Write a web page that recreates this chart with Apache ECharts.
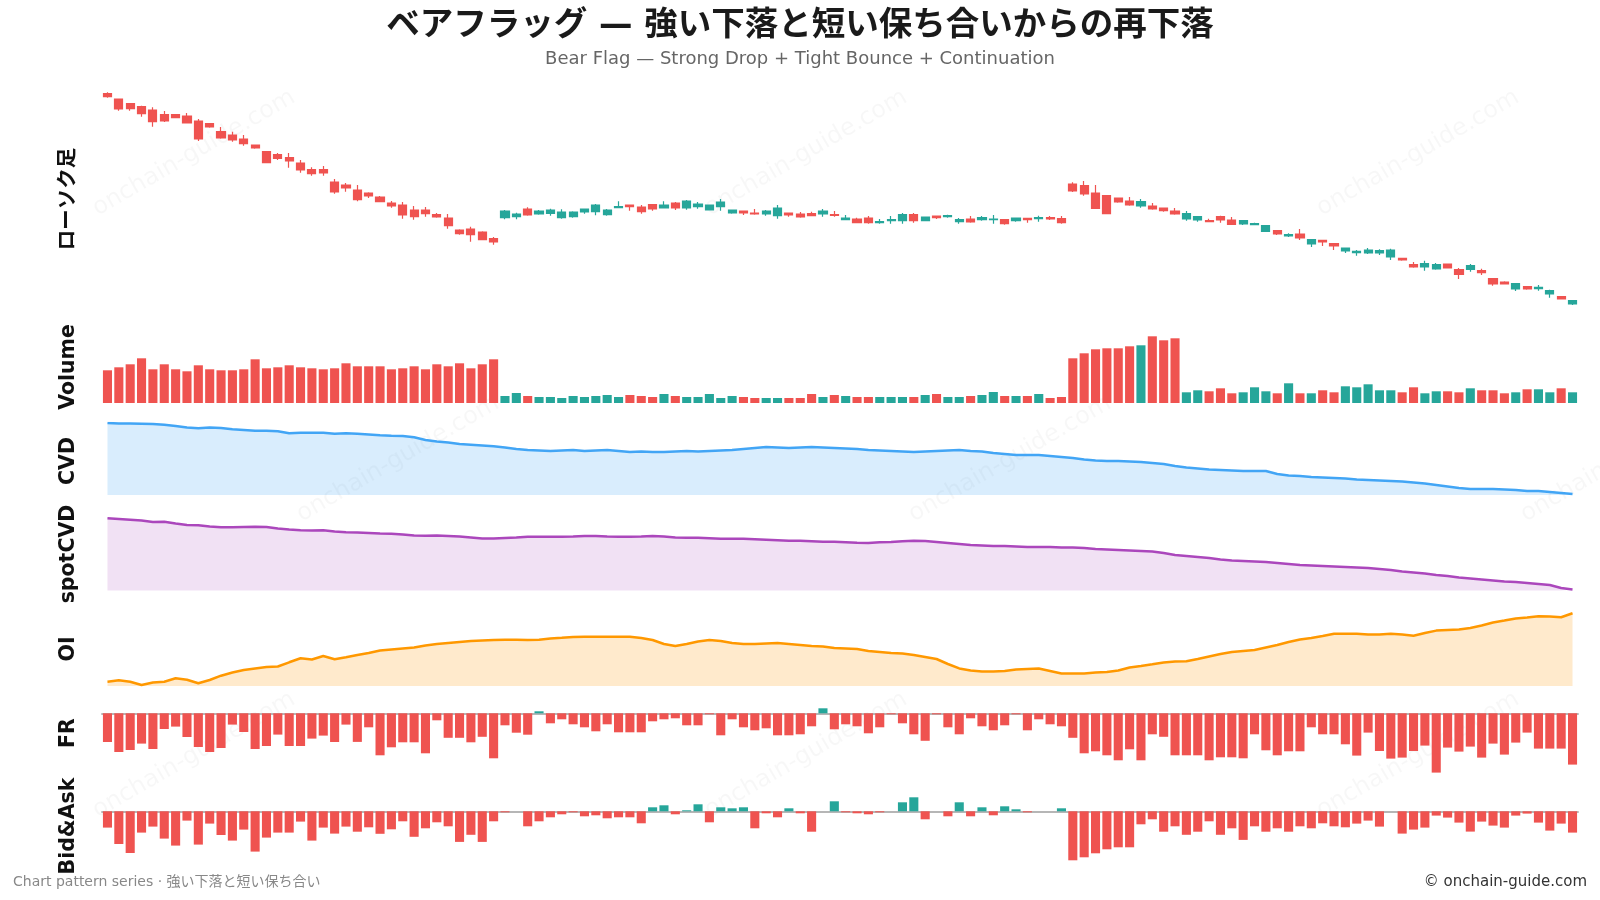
<!DOCTYPE html>
<html>
<head>
<meta charset="utf-8">
<title>Bear Flag</title>
<script src="https://cdn.jsdelivr.net/npm/echarts@6/dist/echarts.min.js"></script>
<style>
  html, body { margin: 0; padding: 0; background: #fff; }
  #chart { width: 1600px; height: 900px; }
</style>
</head>
<body>
<div id="chart"></div>
<script>
// ベアフラッグ: 35本の急落 → 50本の保ち合い → 45本の再下落
var categories = [];
for (var n = 1; n <= 130; n++) categories.push('D' + n);

// ローソク足 [open, close, low, high]
var candles = [
  [306.3,303.3,302.3,307.7],[301,291,289.3,301],[296.3,291.3,289.3,297],[293.3,286.3,283.3,294.3],[290,278.3,273.3,292.7],
  [285.3,279,278,289],[285.3,282.3,282.3,285.3],[284,277,277,287],[279,261,259,281],[276.3,273,272.3,277],
  [268.3,262,261.3,273],[265,260,258.3,268.3],[261,256.3,254.3,265],[255,252,251.3,255],[248.3,237.3,237,249],
  [245.3,241.7,240,247],[242.3,239,232.3,247],[237,230,227.3,240],[230.3,226.3,224.3,232.7],[230.3,227,224.3,234],
  [218,208,206.3,221],[215,212,208.3,217],[210,200.3,198.7,215],[207,204,202,207.7],[203,198.3,198.3,204],
  [197,194,192.3,199],[195,185,181.3,198],[190,183.3,180.3,194],[190,186.3,183.3,193],[185.3,183,182.3,187],
  [182,174.3,171.3,186],[170,166.3,165.3,170.7],[171,165.3,158.3,173.3],[168,160.3,160.3,168.7],[161.3,158,155.3,163],
  // 保ち合い
  [182.3,189,180.7,190],[183.3,186,180.7,187.3],[191,185,184.3,192.7],[186,189,185.3,190],[186.7,190,184.3,191.3],
  [182.3,188,181.3,190.7],[183.3,188,182.3,188.7],[188,191,186.3,191],[188.3,195,184.7,196],[185.3,190,184.3,191],
  [192.3,193.3,192.3,198.7],[195,193.3,189.3,195],[193,188.3,186.3,195],[195.3,191,189.3,196],[192,195,192,198.7],
  [197,192,190,198],[192,199,190.3,200],[193.3,196,191.3,198],[190,195,190,195],[193.3,198,189.3,201],
  [187,190,186.3,190],[189,187,185,189],[187,186,185.3,191],[186,189,184.3,190],[184.3,192,181.3,195],
  [187,185,183.3,187],[186,183,182.3,188],[186.3,184.3,184.3,188.3],[186,189,183.3,191],[185.3,184.7,183.3,189],
  [180.3,182,180.3,185],[181,177.3,176.7,182.3],[182,177.3,176.3,184],[177.3,178.3,176.3,181],[179.3,180.3,176.3,184],
  [179.3,185.3,176.3,187],[185.3,179.3,177.3,187],[179.3,183,179.3,183],[184,182.3,181,184],[183.3,184.3,182.3,185.3],
  [178.3,180.3,176.3,182],[181,178,177.3,184],[180.3,182.3,179.3,184],[180.3,181,176.3,185],[180.3,176.3,175.3,180.3],
  [179.3,182,178.3,182],[181.7,180.3,177.3,182.3],[181.3,182.3,178.3,184.3],[182.3,181,180,184],[181.3,177.3,176.3,184],
  // 再下落
  [216,209,208,217.7],[214.3,206,204.3,219],[207,191.7,191,215],[204.3,186.3,186.3,205],[202,198,197.3,202],
  [199,195,194.3,203],[194,198.3,192.3,201],[194,191,190.3,197],[192,189.3,188.3,192],[189,186,185.3,192],
  [181,186.3,179.3,189],[180,183.3,178.3,183.3],[179.3,178.3,177.7,181.3],[183.3,180,177.3,184.3],[180,175.7,175,183],
  [176,179.3,175,180],[175.3,176.3,174.7,177.3],[168.7,174.3,168,175],[169.3,166,165,170],[164,165.3,163,166.7],
  [166,162,160,171],[156,160.3,153,161],[159.7,158,154,160],[156.3,154,150,156.3],[149,152,147,152],
  [147.3,148.7,144.3,150],[147,150,146,152],[147,149.3,145,150.7],[143,150,140,151.3],[141.7,140,139.3,142.3],
  [135.3,133,132.3,138],[133,136.3,129.3,139.3],[131,135.3,130.3,137],[136,132,132,136],[130.3,125.7,121,132],
  [130.7,134.3,128.3,136],[129.3,127.3,125,131.3],[121.3,116,114.3,121.3],[118,116,116,118.7],[111,116.3,109,116.3],
  [113.3,111,110.3,113.3],[111.3,112.7,109.3,115],[106,109.3,102.3,110.3],[103.3,101,101,104],[96,99.3,95,100]
];

var volume = [
  32.7,35.7,38.7,44.7,33.7,38.7,33.7,31.7,37.7,33.7,32.7,32.7,33.7,43.7,34.7,35.7,37.7,35.7,34.7,33.7,
  34.7,39.7,36.7,36.7,36.7,33.7,34.7,36.7,33.7,38.7,36.7,39.7,34.7,38.7,43.7,
  7,10,7,6,6,5,7,6,7,8,6,8,7,6,9,7,6,6,9,5,7,6,5,5,5,5,5,9,6,8,7,6,6,6,6,6,6,8,9,6,6,7,8,11,7,7,7,9,5,6,
  44.7,49.7,53.7,54.7,54.7,56.7,57.7,66.7,62.7,64.7,10.7,12.7,11.7,14.7,9.7,10.7,15.7,11.7,9.7,19.7,
  9.7,9.7,12.7,10.7,16.7,15.7,18.7,12.7,12.7,10.7,15.7,9.7,11.7,11.7,10.7,14.7,12.7,12.7,9.7,10.7,
  13.7,13.7,10.7,14.7,10.7
];

var cvd = [
  0,-0.5,-0.5,-0.7,-1,-1.7,-3,-4.5,-5.3,-4.5,-5,-6.3,-7,-7.7,-7.7,-8.3,-10.3,-9.7,-9.7,-9.7,
  -10.7,-10.3,-10.7,-11.5,-12.3,-12.7,-13,-14.3,-17,-18.5,-19.5,-21,-21.7,-22.5,-23.3,
  -24.5,-26,-27,-27.5,-28,-27.5,-27,-28,-27.5,-27,-28,-29,-28.5,-29,-29,-28.5,-28,-28.5,-28,-27.5,
  -27,-26,-25,-24,-24.5,-25,-24.5,-24,-24.5,-25,-25.5,-26,-27,-27.5,-28,-28.5,-29,-28.5,-28,-27.5,
  -27,-28,-28.5,-30,-31,-32,-32,-32,-33,-34,
  -35,-36.5,-37.5,-38,-38,-38.5,-39,-40,-41,-43,-44.5,-45.5,-46.5,-47,-47.5,-48,-48,-48,-51,-52.5,
  -53,-54,-54.5,-55,-55.5,-56.5,-57,-57.5,-58,-58.5,-59.5,-60.5,-62,-63.5,-65,-66,-66,-66,-66.5,-67,
  -68,-68,-69,-70,-71
];

var spotCvd = [
  -0.3,-1,-1.7,-2.5,-4,-3.7,-5.5,-7,-7.3,-8.5,-9.3,-9.3,-9,-8.7,-9,-10.5,-11.5,-12.3,-12.5,-12.3,
  -13.5,-14.3,-14.5,-15,-15.5,-15.7,-16.5,-17.5,-17.7,-17.5,-18,-18.5,-19.5,-20.5,-20.5,
  -20,-19.5,-18.8,-18.7,-18.7,-18.7,-18.5,-18,-18,-18.5,-18.7,-18.7,-18.5,-18,-18.5,-19.5,-19.8,-19.8,-20.3,-20.8,
  -20.8,-20.8,-21.3,-21.8,-22.3,-22.8,-22.8,-23.3,-23.8,-23.8,-24.3,-24.8,-25,-24.3,-24,-23.3,-22.8,-23,-24,-25,
  -26,-27,-27.5,-28,-28,-28.5,-29,-29,-29,-29.5,
  -29.5,-30,-31,-31.5,-32,-32.5,-33,-33.5,-35,-37,-38,-39,-40,-41.5,-42.5,-43,-43.5,-44,-45,-46,
  -47,-47.5,-48,-48.5,-49,-49.5,-50,-51,-52,-53.5,-54.5,-55.5,-57,-58,-59.5,-60.5,-61.5,-62.5,-63.5,-64,
  -65,-66,-67,-70,-71.5
];

var oi = [
  4.3,5.7,4.3,1,3.5,4.3,7.7,6.3,2.7,6,10.3,13.5,16,17.5,19,19.5,23.7,27.7,26.5,30,26.7,28.7,
  31,33,35.5,36.5,37.5,38.5,40.5,42,43,44,45,45.5,46,
  46.2,46.2,46,46.2,47.5,48.2,49,49.3,49.3,49.3,49.3,49.3,48,46,42,40,42,44.5,46,45,
  43,42,42,42.5,43,42,41,40,39.5,38,37.5,37,35,34,33,32.5,31,29,27,22,
  17.6,15.5,14.6,14.6,15,16.5,17,17.5,15,12.5,
  12.5,12.5,13.5,14,15.5,18.5,20,21.7,23.5,24.5,24.8,27,29.5,32,34,35,36,38.5,41,44,
  46.5,48,50,52.3,52.3,52.3,51.5,51.5,52.3,51.5,50.3,53,55.4,56,56.4,58,60.5,63.5,65.5,67.6,
  68.5,69.7,69.5,68.7,72.7
];

var fundingRate = [
  -28.7,-38.7,-36.7,-30.3,-35.7,-15.7,-13.3,-23.7,-33.7,-38.7,-34.7,-11.3,-18.7,-35.7,-32.7,-21.3,-32.7,-32.7,-25.3,-22.3,
  -28.7,-11.3,-28.6,-14,-42,-34,-29,-29,-40,-7,-24.5,-24.5,-29,-23.5,-45,
  -12,-19.4,-21.4,2,-10,-6,-11,-14,-18,-11,-19,-19,-19,-8,-6,-5,-12,-12,-1,-22,
  -6,-14,-17,-15,-22,-22,-21,-13,5,-16,-11,-13,-20,-14,-1,-10,-21,-27.5,-1,-14,
  -21,-5,-13,-17,-12,-1,-17,-6,-11,-13,
  -24.5,-40,-38,-42,-47,-36,-47,-21,-23.5,-42,-42,-42,-47,-44,-44,-45,-21,-37,-42,-38,
  -38,-14,-21,-21,-31,-42.3,-19.3,-37.7,-45.3,-44.3,-37.7,-32.3,-59.3,-34.3,-38.3,-33.3,-44.3,-30.3,-41.3,-29.3,
  -19.3,-35.3,-35.3,-35.3,-51.3
];

var bidAsk = [
  -16.3,-32.7,-41.7,-21.3,-15.3,-27.3,-34.3,-9.3,-33.3,-12.3,-23.7,-29.3,-18.3,-40.3,-26.3,-21.3,-21.3,-10.3,-29.3,-16.3,
  -22.3,-15.3,-20.4,-16,-22.5,-18,-10,-25.5,-17,-11,-15,-30.6,-23.5,-30.6,-10,
  -1,0,-15,-10,-6,-3,-1,-5,-4,-7,-6,-6,-12,4,6,-3,1,7,-11,4,
  3,4,-17,-2,-6,3,-2,-20.4,0,10,-1,-2,-3,-1,0,9,14,-8,0,-5,
  9,-5,4,-4,5,2,-1,0,0,3,
  -49,-46,-42,-38,-36,-36,-13,-8,-20.4,-15,-23.5,-20.4,-10,-23.5,-17,-28.6,-15,-20.4,-17,-20.4,
  -15,-17,-12,-15,-16,-12.3,-9.3,-15.3,0,-22.3,-18.3,-16.3,-4.3,-6.3,-11.3,-20.3,-10.3,-14.3,-16.3,-4.3,
  -2.3,-11.3,-19.3,-12.3,-21.3
];

var panelNames = ['ローソク足', 'Volume', 'CVD', 'spotCVD', 'OI', 'FR', 'Bid&Ask'];

var UP = '#26a69a';
var DOWN = '#ef5350';
var FONT = '"DejaVu Sans", "Noto Sans CJK JP", sans-serif';

var chart = echarts.init(document.getElementById('chart'));

// パネルの配置 (top, height) と y軸の範囲
var panels = [
  { top: 92.3, height: 212.7, min: 'dataMin', max: 'dataMax', label: 199 },
  { top: 336.3, height: 66.7, min: 0, max: 'dataMax', label: 367 },
  { top: 423, height: 72, min: -72, max: 0, label: 461 },
  { top: 518, height: 72.5, min: -72.5, max: 0, label: 554 },
  { top: 613, height: 73, min: 0, max: 73, label: 649 },
  { top: 708.3, height: 65, min: -60, max: 5, label: 733 },
  { top: 796.3, height: 65, min: -50, max: 15, label: 826 }
];

var grids = [], xAxes = [], yAxes = [];
panels.forEach(function (p, k) {
  grids.push({ left: 101.8, right: 21.8, top: p.top, height: p.height });
  xAxes.push({
    type: 'category', gridIndex: k, data: categories, boundaryGap: true,
    axisLine: { show: k >= 5, onZero: true, lineStyle: { color: '#9e9e9e', width: 1.5 } },
    axisTick: { show: false }, axisLabel: { show: false }, splitLine: { show: false }
  });
  yAxes.push({
    type: 'value', gridIndex: k, min: p.min, max: p.max, scale: k === 0,
    axisLine: { show: false }, axisTick: { show: false }, axisLabel: { show: false }, splitLine: { show: false }
  });
});

function dirColor(i) {
  return candles[i][1] >= candles[i][0] ? UP : DOWN;
}

var volData = volume.map(function (v, i) {
  return { value: v, itemStyle: { color: dirColor(i) } };
});
function signBars(arr) {
  return arr.map(function (v) {
    return { value: v, itemStyle: { color: v >= 0 ? UP : DOWN } };
  });
}

function areaLine(k, data, color, fill) {
  return {
    type: 'line', xAxisIndex: k, yAxisIndex: k, data: data,
    showSymbol: false, smooth: false,
    lineStyle: { color: color, width: 2.5 },
    areaStyle: { color: fill, origin: 'start', opacity: 1 }
  };
}

var graphics = [];
// 透かし
var marks = [[194, 153], [806, 153], [1418, 153], [398, 459], [1010, 459], [1622, 459], [194, 755], [806, 755], [1418, 755]];
marks.forEach(function (m) {
  graphics.push({
    type: 'text', x: m[0], y: m[1], rotation: Math.PI / 6, silent: true, z: 0,
    style: { text: 'onchain-guide.com', font: '24px ' + FONT, fill: 'rgba(0,0,0,0.03)',
      align: 'center', verticalAlign: 'middle', textAlign: 'center', textVerticalAlign: 'middle' }
  });
});
// タイトル
graphics.push({
  type: 'text', x: 800, y: 26, z: 10,
  style: { text: 'ベアフラッグ — 強い下落と短い保ち合いからの再下落', font: 'bold 33.5px ' + FONT, fill: '#1a1a1a',
    align: 'center', verticalAlign: 'middle', textAlign: 'center', textVerticalAlign: 'middle' }
});
graphics.push({
  type: 'text', x: 800, y: 59, z: 10,
  style: { text: 'Bear Flag — Strong Drop + Tight Bounce + Continuation', font: '18px ' + FONT, fill: '#666',
    align: 'center', verticalAlign: 'middle', textAlign: 'center', textVerticalAlign: 'middle' }
});
// パネル名
panels.forEach(function (p, k) {
  graphics.push({
    type: 'text', x: 69, y: p.label, rotation: Math.PI / 2, z: 10,
    style: { text: panelNames[k], font: 'bold 20.5px ' + FONT, fill: '#111',
      align: 'center', verticalAlign: 'middle', textAlign: 'center', textVerticalAlign: 'middle' }
  });
});
// フッター
graphics.push({
  type: 'text', x: 13, y: 882, z: 10,
  style: { text: 'Chart pattern series · 強い下落と短い保ち合い', font: '14px ' + FONT, fill: '#888',
    align: 'left', verticalAlign: 'middle', textAlign: 'left', textVerticalAlign: 'middle' }
});
graphics.push({
  type: 'text', x: 1587, y: 882, z: 10,
  style: { text: '© onchain-guide.com', font: '15px ' + FONT, fill: '#333',
    align: 'right', verticalAlign: 'middle', textAlign: 'right', textVerticalAlign: 'middle' }
});

var option = {
  backgroundColor: '#fff',
  animation: false,
  grid: grids,
  xAxis: xAxes,
  yAxis: yAxes,
  graphic: graphics,
  series: [
    {
      name: 'ローソク足', type: 'candlestick', xAxisIndex: 0, yAxisIndex: 0, data: candles,
      barWidth: '76%',
      itemStyle: { color: UP, color0: DOWN, borderColor: UP, borderColor0: DOWN, borderWidth: 1.2 }
    },
    { name: 'Volume', type: 'bar', xAxisIndex: 1, yAxisIndex: 1, data: volData, barWidth: '80%' },
    areaLine(2, cvd, '#42a5f5', 'rgba(66,165,245,0.2)'),
    areaLine(3, spotCvd, '#ab47bc', 'rgba(171,71,188,0.16)'),
    areaLine(4, oi, '#ff9800', 'rgba(255,152,0,0.2)'),
    { name: 'FR', type: 'bar', xAxisIndex: 5, yAxisIndex: 5, data: signBars(fundingRate), barWidth: '80%' },
    { name: 'Bid&Ask', type: 'bar', xAxisIndex: 6, yAxisIndex: 6, data: signBars(bidAsk), barWidth: '80%' }
  ]
};

chart.setOption(option);
</script>
</body>
</html>
